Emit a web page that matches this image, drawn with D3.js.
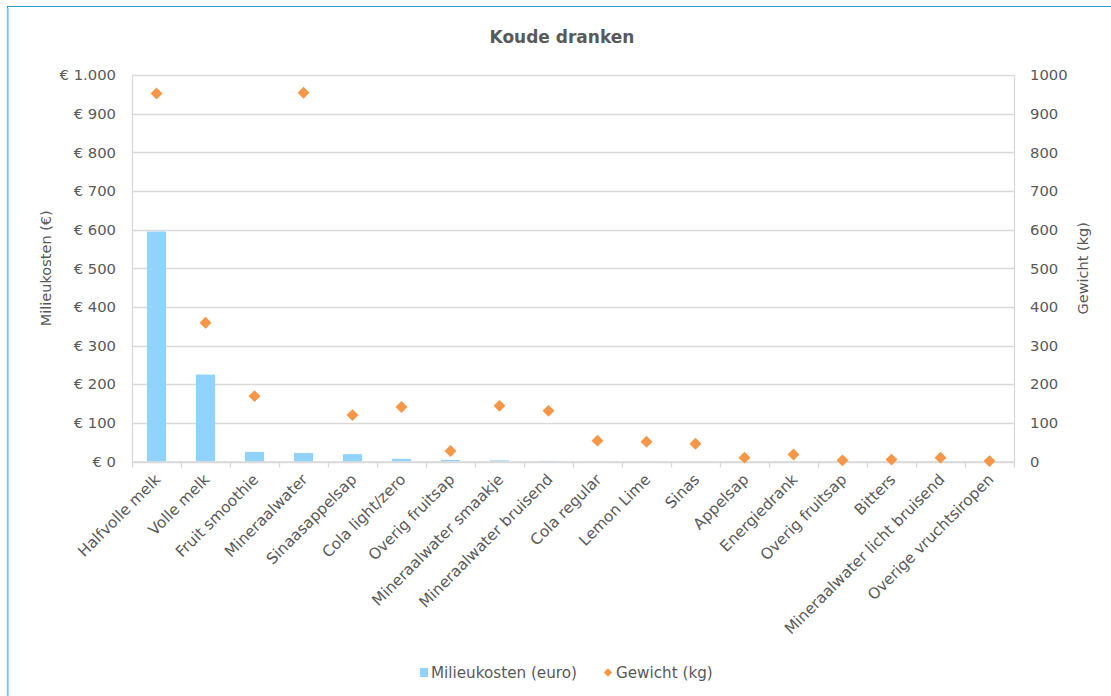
<!DOCTYPE html>
<html>
<head>
<meta charset="utf-8">
<script src="https://cdn.jsdelivr.net/npm/d3@7"></script>
<style>
  html, body { margin: 0; padding: 0; background: #fff; }
  svg { display: block; font-family: "DejaVu Sans", Verdana, sans-serif; }
</style>
</head>
<body>
<svg id="chart" width="1111" height="696"></svg>
<script>
// Koude dranken: milieukosten (bars, left axis) and gewicht (diamonds, right axis)
const categories = [
  "Halfvolle melk", "Volle melk", "Fruit smoothie", "Mineraalwater",
  "Sinaasappelsap", "Cola light/zero", "Overig fruitsap", "Mineraalwater smaakje",
  "Mineraalwater bruisend", "Cola regular", "Lemon Lime", "Sinas", "Appelsap",
  "Energiedrank", "Overig fruitsap", "Bitters", "Mineraalwater licht bruisend",
  "Overige vruchtsiropen"
];
const milieukosten = [595, 225, 25, 22, 19, 7, 4, 3, 1.5, 0.5, 0.5, 0.3, 0.3, 0.3, 0.2, 0.2, 0.2, 0.1];
const gewicht = [952, 359, 169, 954, 120, 141, 27, 144, 131, 54, 51, 46, 10, 18, 3, 5, 10, 1];
const leftTicks = [0, 100, 200, 300, 400, 500, 600, 700, 800, 900, 1000];
const rightTicks = [0, 100, 200, 300, 400, 500, 600, 700, 800, 900, 1000];

const textColor = "#595959";
const gridColor = "#d9d9d9";
const barColor = "#8fd3fe";
const diamondColor = "#f79646";

const svg = d3.select("#chart");

// outer frame of the chart area
svg.append("path")
  .attr("d", "M7.5,700 L7.5,6.5 L1120,6.5")
  .attr("fill", "none").attr("stroke", "#2f9ad0").attr("stroke-width", 1.2);
svg.append("line")
  .attr("x1", 7.8).attr("x2", 7.8).attr("y1", 8).attr("y2", 700)
  .attr("stroke", "#6cc6ec").attr("stroke-width", 1.6);

const plot = { left: 132, right: 1014, top: 75, bottom: 461.5 };

const x = d3.scaleBand()
  .domain(d3.range(categories.length))
  .range([plot.left, plot.right])
  .paddingInner(0.61).paddingOuter(0.305);
const xBand = d3.scaleBand()
  .domain(d3.range(categories.length))
  .range([plot.left, plot.right]);

const yLeft = d3.scaleLinear().domain([0, 1000]).range([plot.bottom, plot.top]);
const yRight = d3.scaleLinear().domain([0, 1000]).range([plot.bottom, plot.top]);

const nl = d3.formatLocale({ decimal: ",", thousands: ".", grouping: [3], currency: ["€ ", ""] });
const euro = nl.format("$,.0f");

// horizontal gridlines
svg.append("g")
  .selectAll("line")
  .data(leftTicks)
  .join("line")
  .attr("x1", plot.left).attr("x2", plot.right)
  .attr("y1", d => Math.round(yLeft(d)) + 0.5)
  .attr("y2", d => Math.round(yLeft(d)) + 0.5)
  .attr("stroke", gridColor).attr("stroke-width", 1.3);

// left axis
const gLeft = svg.append("g")
  .attr("transform", `translate(${plot.left},0)`)
  .call(d3.axisLeft(yLeft).tickValues(leftTicks).tickFormat(euro).tickSize(0).tickPadding(16));
gLeft.select(".domain").attr("stroke", gridColor).attr("stroke-width", 1.3);
gLeft.selectAll("text").attr("fill", textColor).style("font-size", "14.8px")
  .style("font-family", "DejaVu Sans, Verdana, sans-serif");

// right axis
const gRight = svg.append("g")
  .attr("transform", `translate(${plot.right},0)`)
  .call(d3.axisRight(yRight).tickValues(rightTicks).tickFormat(d3.format("d")).tickSize(0).tickPadding(16));
gRight.select(".domain").attr("stroke", gridColor).attr("stroke-width", 1.3);
gRight.selectAll("text").attr("fill", textColor).style("font-size", "14.8px")
  .style("font-family", "DejaVu Sans, Verdana, sans-serif");

// bars
svg.append("g")
  .selectAll("rect")
  .data(milieukosten)
  .join("rect")
  .attr("x", (d, i) => x(i))
  .attr("width", x.bandwidth())
  .attr("y", d => yLeft(d))
  .attr("height", d => plot.bottom - yLeft(d))
  .attr("fill", barColor);

// bottom axis with category labels
const gBottom = svg.append("g")
  .attr("transform", `translate(0,${plot.bottom})`);
gBottom.append("line")
  .attr("x1", plot.left).attr("x2", plot.right).attr("y1", 0.5).attr("y2", 0.5)
  .attr("stroke", gridColor).attr("stroke-width", 1.3);
gBottom.selectAll("line.tick")
  .data(d3.range(categories.length + 1))
  .join("line")
  .attr("class", "tick")
  .attr("x1", i => Math.round(plot.left + i * xBand.step()) + 0.5)
  .attr("x2", i => Math.round(plot.left + i * xBand.step()) + 0.5)
  .attr("y1", 0).attr("y2", 6)
  .attr("stroke", gridColor).attr("stroke-width", 1.3);
gBottom.selectAll("text")
  .data(categories)
  .join("text")
  .attr("transform", (d, i) => `translate(${xBand(i) + xBand.bandwidth() / 2 + 5},${19}) rotate(-45)`)
  .attr("text-anchor", "end")
  .attr("fill", textColor)
  .style("font-size", "15.3px")
  .text(d => d);

// diamonds
const diamond = d3.symbol().type(d3.symbolDiamond2).size(90);
svg.append("g")
  .selectAll("path")
  .data(gewicht)
  .join("path")
  .attr("d", diamond)
  .attr("transform", (d, i) => `translate(${xBand(i) + xBand.bandwidth() / 2},${yRight(d)})`)
  .attr("fill", diamondColor);

// title
svg.append("text")
  .attr("x", 562).attr("y", 43)
  .attr("text-anchor", "middle")
  .attr("fill", textColor)
  .style("font-size", "17px").style("font-weight", "bold")
  .text("Koude dranken");

// axis titles
svg.append("text")
  .attr("transform", `translate(51,${(plot.top + plot.bottom) / 2}) rotate(-90)`)
  .attr("text-anchor", "middle")
  .attr("fill", textColor)
  .style("font-size", "14.5px")
  .text("Milieukosten (€)");
svg.append("text")
  .attr("transform", `translate(1088,${(plot.top + plot.bottom) / 2}) rotate(-90)`)
  .attr("text-anchor", "middle")
  .attr("fill", textColor)
  .style("font-size", "14.5px")
  .text("Gewicht (kg)");

// legend
const legend = svg.append("g");
legend.append("rect")
  .attr("x", 420).attr("y", 668).attr("width", 8).attr("height", 9)
  .attr("fill", barColor);
legend.append("text")
  .attr("x", 431).attr("y", 678)
  .attr("fill", textColor).style("font-size", "15.2px")
  .text("Milieukosten (euro)");
legend.append("path")
  .attr("d", d3.symbol().type(d3.symbolDiamond2).size(45))
  .attr("transform", "translate(608,672.5)")
  .attr("fill", diamondColor);
legend.append("text")
  .attr("x", 616).attr("y", 678)
  .attr("fill", textColor).style("font-size", "15.2px")
  .text("Gewicht (kg)");
</script>
</body>
</html>
